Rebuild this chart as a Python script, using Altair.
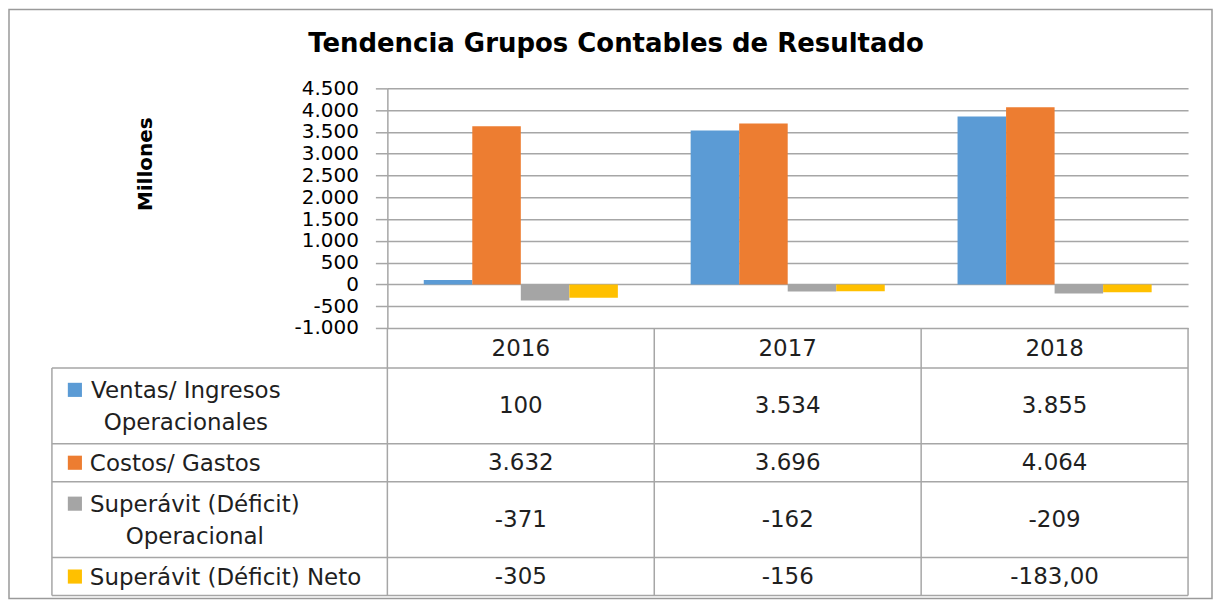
import altair as alt
import pandas as pd

# ---------------- data ----------------
years = ["2016", "2017", "2018"]
series_names = [
    "Ventas/ Ingresos Operacionales",
    "Costos/ Gastos",
    "Superávit (Déficit) Operacional",
    "Superávit (Déficit) Neto",
]
series_lines = [
    ["Ventas/ Ingresos", "Operacionales"],
    ["Costos/ Gastos"],
    ["Superávit (Déficit)", "Operacional"],
    ["Superávit (Déficit) Neto"],
]
ventas = [100, 3534, 3855]
costos = [3632, 3696, 4064]
superavit_op = [-371, -162, -209]
superavit_neto = [-305, -156, -183]
table_ventas = ["100", "3.534", "3.855"]
table_costos = ["3.632", "3.696", "4.064"]
table_sup_op = ["-371", "-162", "-209"]
table_sup_neto = ["-305", "-156", "-183,00"]
y_ticks = [-1000, -500, 0, 500, 1000, 1500, 2000, 2500, 3000, 3500, 4000, 4500]
colors = ["#5B9BD5", "#ED7D31", "#A5A5A5", "#FFC000"]
title_text = "Tendencia Grupos Contables de Resultado"
y_title = "Millones"

values_by_series = [ventas, costos, superavit_op, superavit_neto]
labels_by_series = [table_ventas, table_costos, table_sup_op, table_sup_neto]

rows = []
for s, vals, labs in zip(series_names, values_by_series, labels_by_series):
    for yr, v, lab in zip(years, vals, labs):
        rows.append({"year": yr, "series": s, "value": v, "label": lab})
df = pd.DataFrame(rows)

# ---------------- layout ----------------
W, H = 802, 240
HEADER = 40
UNIT = 38
LH = 32
LEFT = -336
FONT = "DejaVu Sans"
LINE = "#a6a6a6"
TXT = "#1f1f1f"
TFS = 23

# approximate DejaVu Sans advance widths (em) for centring two-line labels
ADV = {"S": .635, "u": .634, "p": .635, "e": .615, "r": .411, "á": .613, "v": .592,
       "i": .278, "t": .392, " ": .318, "(": .39, "D": .77, "é": .615, "f": .352,
       "c": .55, ")": .39, "V": .684, "n": .634, "a": .613, "s": .521, "/": .337,
       "I": .295, "g": .635, "o": .612, "O": .787, "l": .278, "C": .698, "G": .775,
       "N": .748}


def est_width(text, fs):
    return sum(ADV.get(c, 0.6) for c in text) * fs


header_bottom = H + HEADER
row_tops = []
t = header_bottom
for lines in series_lines:
    row_tops.append(t)
    t += UNIT * len(lines)
table_bottom = t

x_enc = alt.X("year:N", sort=years, scale=alt.Scale(paddingInner=0, paddingOuter=0), axis=None)

bars = alt.Chart(df).mark_bar().encode(
    x=x_enc,
    xOffset=alt.XOffset("series:N", sort=series_names,
                        scale=alt.Scale(paddingInner=0, paddingOuter=0.75)),
    y=alt.Y("value:Q",
            scale=alt.Scale(domain=[y_ticks[0], y_ticks[-1]], nice=False, zero=False),
            axis=alt.Axis(values=y_ticks, title=None,
                          labelExpr="(datum.value < 0 ? '-' : '') + replace(format(abs(datum.value), ','), ',', '.')",
                          labelFont=FONT, labelFontSize=20, labelColor="#000000",
                          labelPadding=17, tickSize=12, tickColor=LINE, tickWidth=1.5,
                          domainColor=LINE, domainWidth=1.5,
                          grid=True, gridColor=LINE, gridWidth=1.5)),
    color=alt.Color("series:N", sort=series_names,
                    scale=alt.Scale(domain=series_names, range=colors), legend=None),
)

one = alt.InlineData(values=[{"k": 1}])

border = alt.Chart(one).mark_rect(fill="white", fillOpacity=0, stroke="#9a9a9a", strokeWidth=1.5).encode(
    x=alt.value(-379), x2=alt.value(W + 24), y=alt.value(-79), y2=alt.value(table_bottom + 3)
)

title = alt.Chart(pd.DataFrame({"t": [title_text]})).mark_text(
    font=FONT, fontSize=26, fontWeight="bold", color="#000000", align="center", baseline="middle"
).encode(text="t:N", x=alt.value(229), y=alt.value(-44))

ytitle = alt.Chart(pd.DataFrame({"t": [y_title]})).mark_text(
    font=FONT, fontSize=20, fontWeight="bold", color="#000000", align="center", baseline="middle", angle=270
).encode(text="t:N", x=alt.value(-242), y=alt.value(76))

# table lines
hlines = [header_bottom] + [rt + UNIT * len(l) for rt, l in zip(row_tops, series_lines)]
layers = [border, bars, title, ytitle]
for hy in hlines:
    layers.append(alt.Chart(one).mark_rule(color=LINE, strokeWidth=1.5).encode(
        x=alt.value(LEFT), x2=alt.value(W), y=alt.value(hy)))
layers.append(alt.Chart(one).mark_rule(color=LINE, strokeWidth=1.5).encode(
    x=alt.value(LEFT), y=alt.value(header_bottom), y2=alt.value(table_bottom)))
layers.append(alt.Chart(one).mark_rule(color=LINE, strokeWidth=1.5).encode(
    x=alt.value(W), y=alt.value(H), y2=alt.value(table_bottom)))
layers.append(alt.Chart(pd.DataFrame({"year": years})).mark_rule(color=LINE, strokeWidth=1.5).encode(
    x=alt.X("year:N", sort=years, bandPosition=0), y=alt.value(H), y2=alt.value(table_bottom)))

# header years
layers.append(alt.Chart(pd.DataFrame({"year": years})).mark_text(
    font=FONT, fontSize=TFS, color=TXT, align="center", baseline="middle").encode(
    x=alt.X("year:N", sort=years), text="year:N", y=alt.value(H + HEADER / 2 + 1)))

# values and legend column
for i, (s, lines, rt) in enumerate(zip(series_names, series_lines, row_tops)):
    mid = rt + UNIT * len(lines) / 2
    layers.append(alt.Chart(df).transform_filter(alt.datum.series == s).mark_text(
        font=FONT, fontSize=TFS, color=TXT, align="center", baseline="middle").encode(
        x=alt.X("year:N", sort=years), text="label:N", y=alt.value(mid)))
    first_y = mid - LH * (len(lines) - 1) / 2
    layers.append(alt.Chart(pd.DataFrame({"series": [s]})).mark_square(size=200, opacity=1).encode(
        x=alt.value(-313), y=alt.value(first_y),
        color=alt.Color("series:N", sort=series_names,
                        scale=alt.Scale(domain=series_names, range=colors), legend=None)))
    text_start = -298
    if len(lines) > 1:
        lx, al = text_start + est_width(lines[0], TFS) / 2, "center"
    else:
        lx, al = text_start, "left"
    layers.append(alt.Chart(pd.DataFrame({"lab": ["\n".join(lines)]})).mark_text(
        font=FONT, fontSize=TFS, color=TXT, align=al, baseline="middle", lineBreak="\n", lineHeight=LH).encode(
        text="lab:N", x=alt.value(lx), y=alt.value(first_y + 1)))

chart = alt.layer(*layers).properties(
    width=W, height=H,
    autosize=alt.AutoSizeParams(type="none"),
    padding={"left": 380, "top": 80, "right": 26, "bottom": 272},
    background="white",
).configure_view(stroke=None)

chart.save("out.html", embed_options={"renderer": "svg", "actions": False})
